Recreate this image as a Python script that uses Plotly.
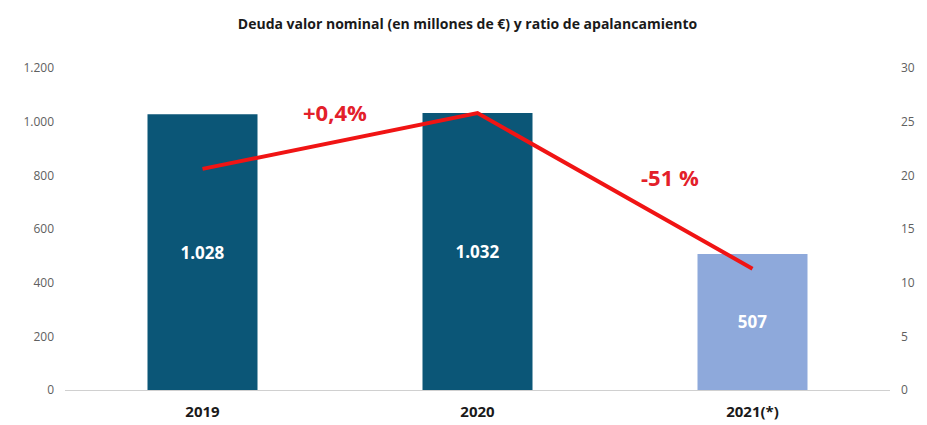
import plotly.graph_objects as go

# datos
years = ['2019', '2020', '2021(*)']
deuda = [1028, 1032, 507]
ratio = [20.6, 25.8, 11.3]
bar_colors = ['#0B5677', '#0B5677', '#8EA9DB']
var_labels = ['+0,4%', '-51 %']

fig = go.Figure()

# Barras deuda
fig.add_trace(go.Bar(
    x=years, y=deuda,
    marker=dict(color=bar_colors, line=dict(width=0)),
    width=0.4,
    texttemplate='<b>%{y:,.0f}</b>',
    textposition='inside',
    insidetextanchor='middle',
    textfont=dict(color='white', size=17, family='Open Sans'),
    name='Deuda'
))

# Línea ratio apalancamiento
fig.add_trace(go.Scatter(
    x=years, y=ratio,
    mode='lines',
    line=dict(color='#F01414', width=4),
    yaxis='y2',
    name='Ratio'
))

# Variaciones
fig.add_annotation(x=0.48, y=25.9, xref='x', yref='y2', text='<b>' + var_labels[0] + '</b>',
                   showarrow=False, font=dict(color='#E3202A', size=22, family='Open Sans'))
fig.add_annotation(x=1.70, y=19.8, xref='x', yref='y2', text='<b>' + var_labels[1] + '</b>',
                   showarrow=False, font=dict(color='#E3202A', size=22, family='Open Sans'))

# la página añade 8px de margen al body: se compensa en tamaño y márgenes
fig.update_layout(
    title=dict(text='<b>Deuda valor nominal (en millones de €) y ratio de apalancamiento</b>',
               x=0.5, xanchor='center', y=0.962, yanchor='middle',
               font=dict(size=14, color='#1a1a1a', family='Open Sans')),
    width=919, height=417,
    margin=dict(l=57, r=37, t=60, b=35),
    plot_bgcolor='white', paper_bgcolor='white',
    separators=',.',
    showlegend=False,
    xaxis=dict(showgrid=False, showline=True, linecolor='#D0D0D0', linewidth=1,
               ticks='', tickfont=dict(size=15, color='#1a1a1a', family='Open Sans'),
               tickprefix='<b>', ticksuffix='</b>', ticklabelstandoff=8,
               automargin=False),
    yaxis=dict(range=[0, 1200], dtick=200, showgrid=False, zeroline=False,
               separatethousands=True, tickformat=',d',
               tickfont=dict(size=12, color='#606060', family='Open Sans'),
               ticklabelstandoff=10, automargin=False),
    yaxis2=dict(range=[0, 30], dtick=5, overlaying='y', side='right',
                showgrid=False, zeroline=False,
                tickfont=dict(size=12, color='#606060', family='Open Sans'),
                ticklabelstandoff=10, automargin=False),
)

fig.write_html('out.html')
